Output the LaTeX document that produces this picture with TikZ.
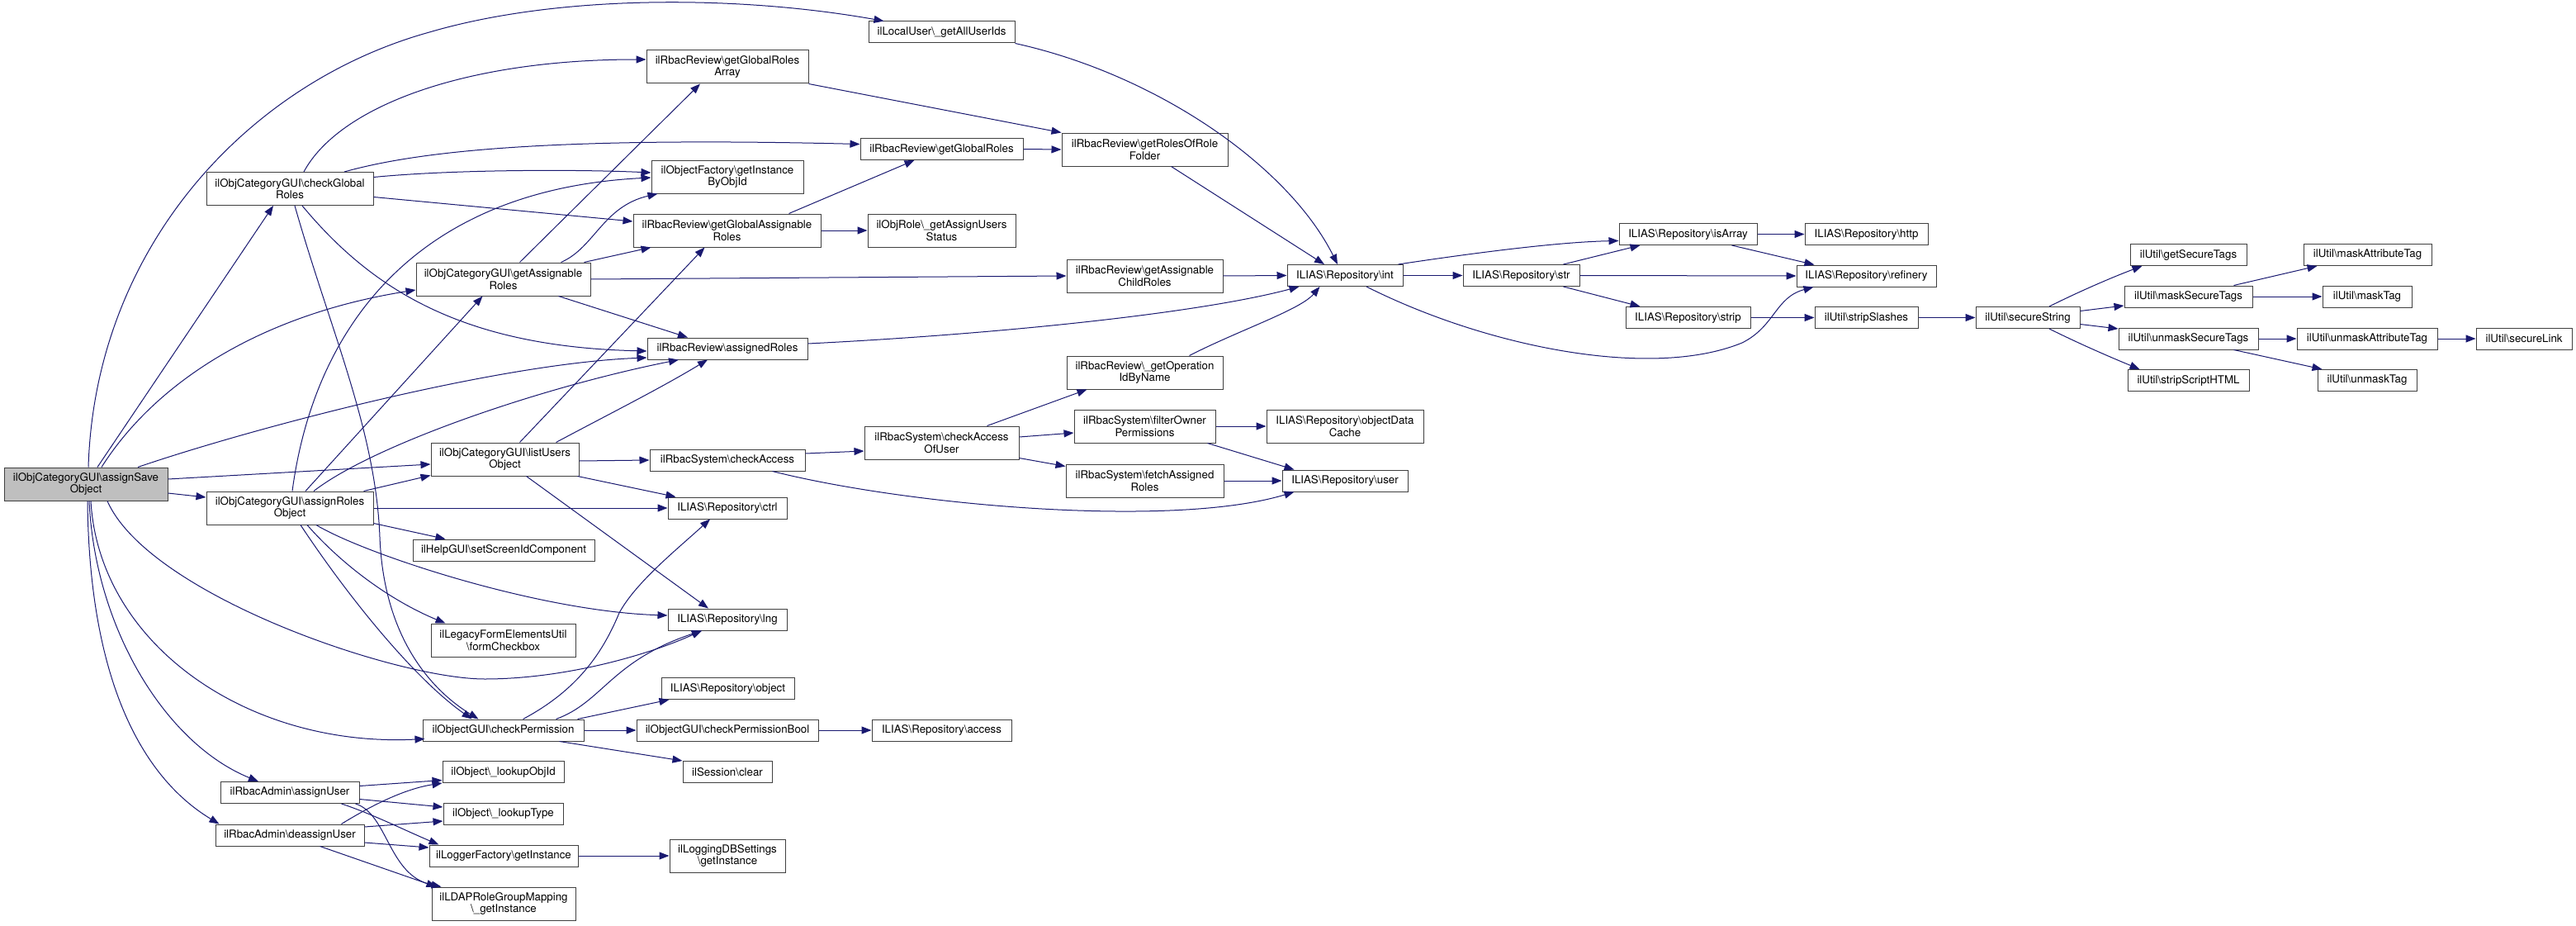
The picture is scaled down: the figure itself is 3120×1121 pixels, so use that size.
\documentclass[tikz,border=0pt]{standalone}
\usepackage{fontspec}
\setmainfont{TeX Gyre Heros}
\usetikzlibrary{arrows.meta}
\usetikzlibrary{calc}
\definecolor{edgeBlue}{RGB}{25,25,112}
\definecolor{boxGray}{RGB}{64,64,64}
\newcommand{\bsl}{\textbackslash}

\begin{document}
\begin{tikzpicture}[x=1pt,y=-1pt,
        fnNode/.style = {draw=boxGray,line width=1pt,fill=white,inner sep=0pt,minimum height=26pt,align=center,font=\fontsize{13.3}{14.7}\selectfont},
        twoLine/.style = {minimum height=40pt}, % label set on two lines
        rootNode/.style = {fnNode,twoLine,fill=black!25},
        callEdge/.style = {draw=edgeBlue,line width=1pt,-{Triangle[length=12pt,width=9pt]}}
        ]
        \path[fill=white,use as bounding box] (0,0) rectangle (3120,1121);

        % callers
        \node[rootNode,minimum width=198pt] (asave) at (104,586) {ilObjCategoryGUI\bsl assignSave\\Object};
        \node[fnNode,twoLine,minimum width=202pt] (cgr) at (351,228.5) {ilObjCategoryGUI\bsl checkGlobal\\Roles};
        \node[fnNode,twoLine,minimum width=202pt] (aro) at (351,615) {ilObjCategoryGUI\bsl assignRoles\\Object};
        \node[fnNode,minimum width=168pt] (rau) at (351,959.5) {ilRbacAdmin\bsl assignUser};
        \node[fnNode,minimum width=180pt] (rdu) at (351,1011) {ilRbacAdmin\bsl deassignUser};

        \node[fnNode,twoLine,minimum width=211pt] (gar) at (609.5,338) {ilObjCategoryGUI\bsl getAssignable\\Roles};
        \node[fnNode,twoLine,minimum width=179pt] (luo) at (611.5,556) {ilObjCategoryGUI\bsl listUsers\\Object};
        \node[fnNode,minimum width=220pt] (hsc) at (610,666) {ilHelpGUI\bsl setScreenIdComponent};
        \node[fnNode,twoLine,minimum width=175pt] (lfc) at (609.5,775) {ilLegacyFormElementsUtil\\\bsl formCheckbox};
        \node[fnNode,minimum width=195pt] (ocp) at (609.5,884) {ilObjectGUI\bsl checkPermission};
        \node[fnNode,minimum width=147pt] (lid) at (609.5,934.5) {ilObject\bsl\_lookupObjId};
        \node[fnNode,minimum width=145pt] (lty) at (609.5,985) {ilObject\bsl\_lookupType};
        \node[fnNode,minimum width=180pt] (lgf) at (610,1036) {ilLoggerFactory\bsl getInstance};
        \node[fnNode,twoLine,minimum width=174pt] (ldap) at (610,1094) {ilLDAPRoleGroupMapping\\\bsl\_getInstance};

        \node[fnNode,twoLine,minimum width=196pt] (ggra) at (881,81) {ilRbacReview\bsl getGlobalRoles\\Array};
        \node[fnNode,twoLine,minimum width=184pt] (oif) at (881,214) {ilObjectFactory\bsl getInstance\\ByObjId};
        \node[fnNode,twoLine,minimum width=227pt] (ggar) at (880.5,279) {ilRbacReview\bsl getGlobalAssignable\\Roles};
        \node[fnNode,minimum width=194pt] (ars) at (881,422) {ilRbacReview\bsl assignedRoles};
        \node[fnNode,minimum width=188pt] (rsca) at (881,557) {ilRbacSystem\bsl checkAccess};
        \node[fnNode,minimum width=144pt] (ctrl) at (881,615) {ILIAS\bsl Repository\bsl ctrl};
        \node[fnNode,minimum width=144pt] (lng) at (881,750) {ILIAS\bsl Repository\bsl lng};
        \node[fnNode,minimum width=161pt] (robj) at (881.5,833.5) {ILIAS\bsl Repository\bsl object};
        \node[fnNode,minimum width=220pt] (cpb) at (881,884) {ilObjectGUI\bsl checkPermissionBool};
        \node[fnNode,minimum width=108pt] (sclr) at (881,934.5) {ilSession\bsl clear};
        \node[fnNode,twoLine,minimum width=140pt] (ldbs) at (881,1036) {ilLoggingDBSettings\\\bsl getInstance};

        \node[fnNode,minimum width=177pt] (lu) at (1140.5,39) {ilLocalUser\bsl\_getAllUserIds};
        \node[fnNode,minimum width=197pt] (ggr) at (1140.5,180.5) {ilRbacReview\bsl getGlobalRoles};
        \node[fnNode,twoLine,minimum width=179pt] (ors) at (1140.5,279) {ilObjRole\bsl\_getAssignUsers\\Status};
        \node[fnNode,twoLine,minimum width=187pt] (csu) at (1140.5,536) {ilRbacSystem\bsl checkAccess\\OfUser};
        \node[fnNode,minimum width=169pt] (racc) at (1140.5,884) {ILIAS\bsl Repository\bsl access};

        \node[fnNode,twoLine,minimum width=201pt] (rorf) at (1386.5,181) {ilRbacReview\bsl getRolesOfRole\\Folder};
        \node[fnNode,twoLine,minimum width=189pt] (gacr) at (1386.5,334) {ilRbacReview\bsl getAssignable\\ChildRoles};
        \node[fnNode,twoLine,minimum width=189pt] (goin) at (1386.5,451) {ilRbacReview\bsl\_getOperation\\IdByName};
        \node[fnNode,twoLine,minimum width=171pt] (fop) at (1386.5,516) {ilRbacSystem\bsl filterOwner\\Permissions};
        \node[fnNode,twoLine,minimum width=191pt] (far) at (1386.5,582) {ilRbacSystem\bsl fetchAssigned\\Roles};

        \node[fnNode,minimum width=140pt] (rint) at (1629,333.5) {ILIAS\bsl Repository\bsl int};
        \node[fnNode,twoLine,minimum width=190pt] (odc) at (1629,516) {ILIAS\bsl Repository\bsl objectData\\Cache};
        \node[fnNode,minimum width=152pt] (ruser) at (1629,582) {ILIAS\bsl Repository\bsl user};
        \node[fnNode,minimum width=141pt] (rstr) at (1842.5,333.5) {ILIAS\bsl Repository\bsl str};
        \node[fnNode,minimum width=167pt] (isarr) at (2044.5,283.5) {ILIAS\bsl Repository\bsl isArray};
        \node[fnNode,minimum width=151pt] (rstrip) at (2044.5,384.5) {ILIAS\bsl Repository\bsl strip};
        \node[fnNode,minimum width=149pt] (http) at (2260.5,283.5) {ILIAS\bsl Repository\bsl http};
        \node[fnNode,minimum width=169pt] (refi) at (2260.5,334) {ILIAS\bsl Repository\bsl refinery};
        \node[fnNode,minimum width=125pt] (sls) at (2260.5,384.5) {ilUtil\bsl stripSlashes};
        \node[fnNode,minimum width=126pt] (ss) at (2456,384.5) {ilUtil\bsl secureString};

        \node[fnNode,minimum width=141pt] (gst) at (2650.5,308.5) {ilUtil\bsl getSecureTags};
        \node[fnNode,minimum width=155pt] (mst) at (2650.5,359) {ilUtil\bsl maskSecureTags};
        \node[fnNode,minimum width=169pt] (ust) at (2650.5,410) {ilUtil\bsl unmaskSecureTags};
        \node[fnNode,minimum width=147pt] (ssh) at (2650.5,460.5) {ilUtil\bsl stripScriptHTML};
        \node[fnNode,minimum width=155pt] (mat) at (2867.5,308.5) {ilUtil\bsl maskAttributeTag};
        \node[fnNode,minimum width=108pt] (mtag) at (2867,359) {ilUtil\bsl maskTag};
        \node[fnNode,minimum width=170pt] (umat) at (2867,410) {ilUtil\bsl unmaskAttributeTag};
        \node[fnNode,minimum width=120pt] (umtag) at (2867,460.5) {ilUtil\bsl unmaskTag};
        \node[fnNode,minimum width=116pt] (slink) at (3057,410) {ilUtil\bsl secureLink};

        % calls of assignSaveObject
        \draw[callEdge] ($(asave.north)+(3,0)$) .. controls (115,300) and (300,100) .. (520,39) .. controls (680,-8) and (900,-5) .. ($(lu.north)+(-70,0)$);
        \draw[callEdge] ($(asave.north)+(14,0)$) -- ($(cgr.south)+(-20,0)$);
        \draw[callEdge] ($(asave.north)+(19,0)$) .. controls (190,460) and (320,380) .. ($(gar.west)+(0,13)$);
        \draw[callEdge] ($(asave.north)+(63,0)$) .. controls (300,520) and (600,440) .. ($(ars.west)+(0,11)$);
        \draw[callEdge] ($(asave.east)+(0,-6)$) -- ($(luo.west)+(0,6)$);
        \draw[callEdge] ($(asave.east)+(0,11)$) -- ($(aro.west)+(0,-13)$);
        \draw[callEdge] ($(asave.south)+(26,0)$) .. controls (180,720) and (480,822) .. (587,822) .. controls (680,822) and (780,795) .. ($(lng.south)+(-31,0)$);
        \draw[callEdge] ($(asave.south)+(6,0)$) .. controls (120,780) and (300,905) .. ($(ocp.south west)+(3,-3)$);
        \draw[callEdge] ($(asave.south)+(4,0)$) .. controls (115,760) and (200,900) .. ($(rau.north)+(-38,0)$);
        \draw[callEdge] ($(asave.south)+(2,0)$) .. controls (108,820) and (170,940) .. ($(rdu.north west)+(5,0)$);

        % calls of checkGlobalRoles
        \draw[callEdge] ($(cgr.north)+(17,0)$) .. controls (410,130) and (560,72) .. ($(ggra.west)+(0,-9)$);
        \draw[callEdge] ($(cgr.north)+(66,0)$) .. controls (500,185) and (650,165) .. ($(ggr.west)+(0,-6)$);
        \draw[callEdge] ($(cgr.east)+(0,-14)$) .. controls (550,205) and (700,205) .. ($(oif.west)+(0,-5)$);
        \draw[callEdge] ($(cgr.east)+(0,10)$) -- ($(ggar.west)+(0,-11)$);
        \draw[callEdge] ($(cgr.south)+(15,0)$) .. controls (450,350) and (560,420) .. ($(ars.west)+(0,3)$);
        \draw[callEdge] ($(cgr.south)+(6,0)$) .. controls (400,400) and (455,520) .. (460,650) .. controls (465,780) and (530,840) .. ($(ocp.north west)+(68,0)$);

        % calls of assignRolesObject
        \draw[callEdge] ($(aro.north)+(3,0)$) .. controls (380,400) and (500,230) .. ($(oif.west)+(0,1)$);
        \draw[callEdge] ($(aro.north)+(19,0)$) -- ($(gar.south)+(-25,0)$);
        \draw[callEdge] ($(aro.north)+(29,0)$) .. controls (450,540) and (650,470) .. ($(ars.south)+(-59,0)$);
        \draw[callEdge] ($(aro.north east)+(-12,0)$) -- ($(luo.south west)+(0,-1)$);
        \draw[callEdge] (aro.east) -- (ctrl.west);
        \draw[callEdge] ($(aro.south east)+(0,-2)$) -- ($(hsc.north west)+(40,0)$);
        \draw[callEdge] ($(aro.south)+(32,0)$) .. controls (440,670) and (650,740) .. ($(lng.west)+(0,-5)$);
        \draw[callEdge] ($(aro.south)+(21,0)$) .. controls (420,690) and (480,730) .. ($(lfc.north west)+(18,0)$);
        \draw[callEdge] ($(aro.south)+(13,0)$) .. controls (420,720) and (500,820) .. ($(ocp.north west)+(60,0)$);

        % calls of getAssignableRoles and listUsersObject
        \draw[callEdge] ($(gar.north)+(20,0)$) -- ($(ggra.south)+(-33,0)$);
        \draw[callEdge] ($(gar.north)+(70,0)$) .. controls (720,300) and (730,250) .. ($(oif.south west)+(8,0)$);
        \draw[callEdge] ($(gar.north east)+(-8,0)$) -- ($(ggar.south west)+(22,0)$);
        \draw[callEdge] (gar.east) -- (gacr.west);
        \draw[callEdge] ($(gar.south)+(67,0)$) -- ($(ars.north)+(-48,0)$);
        \draw[callEdge] ($(luo.north)+(18,0)$) -- ($(ggar.south)+(-27,0)$);
        \draw[callEdge] ($(luo.north)+(62,0)$) .. controls (740,500) and (800,470) .. ($(ars.south)+(-24,0)$);
        \draw[callEdge] ($(luo.east)+(0,2)$) -- (rsca.west);
        \draw[callEdge] ($(luo.south east)+(-2,0)$) -- ($(ctrl.north west)+(10,0)$);
        \draw[callEdge] ($(luo.south)+(26,0)$) -- ($(lng.north)+(-23,0)$);

        % rbac system
        \draw[callEdge] ($(rsca.east)+(0,-8)$) -- ($(csu.west)+(0,10)$);
        \draw[callEdge] ($(rsca.south east)+(-40,0)$) .. controls (1100,612) and (1420,640) .. ($(ruser.south west)+(15,0)$);
        \draw[callEdge] ($(csu.north)+(55,0)$) -- ($(goin.south west)+(25,0)$);
        \draw[callEdge] ($(csu.east)+(0,-7)$) -- ($(fop.west)+(0,8)$);
        \draw[callEdge] ($(csu.south east)+(0,-2)$) -- ($(far.north west)+(0,3)$);
        \draw[callEdge] (fop.east) -- (odc.west);
        \draw[callEdge] ($(fop.south east)+(-10,0)$) -- ($(ruser.north west)+(15,0)$);
        \draw[callEdge] (far.east) -- (ruser.west);

        % rbac review
        \draw[callEdge] ($(goin.north)+(54,0)$) .. controls (1500,400) and (1575,375) .. ($(rint.south west)+(40,0)$);
        \draw[callEdge] ($(ars.east)+(0,-6)$) .. controls (1200,405) and (1450,380) .. ($(rint.south west)+(15,0)$);
        \draw[callEdge] (lu.south east) .. controls (1400,90) and (1560,200) .. ($(rint.north)+(-9,0)$);
        \draw[callEdge] ($(rorf.south)+(32,0)$) -- ($(rint.north)+(-25,0)$);
        \draw[callEdge] (gacr.east) -- (rint.west);
        \draw[callEdge] (ggra.south east) -- (rorf.north west);
        \draw[callEdge] (ggr.east) -- (rorf.west);
        \draw[callEdge] ($(ggar.north east)+(-39,0)$) -- ($(ggr.south)+(-33,0)$);
        \draw[callEdge] (ggar.east) -- (ors.west);

        % repository
        \draw[callEdge] ($(rint.north east)+(-6,0)$) .. controls (1760,310) and (1880,293) .. ($(isarr.west)+(0,8)$);
        \draw[callEdge] (rint.east) -- (rstr.west);
        \draw[callEdge] ($(rint.south)+(26,0)$) .. controls (1800,420) and (2000,460) .. (2110,415) .. controls (2150,395) and (2150,360) .. ($(refi.south west)+(21,0)$);
        \draw[callEdge] ($(rstr.north east)+(-20,0)$) -- ($(isarr.south west)+(26,0)$);
        \draw[callEdge] (rstr.east) -- (refi.west);
        \draw[callEdge] ($(rstr.south east)+(-20,0)$) -- ($(rstrip.north west)+(18,0)$);
        \draw[callEdge] (isarr.east) -- (http.west);
        \draw[callEdge] ($(isarr.south)+(53,0)$) -- ($(refi.north west)+(22,0)$);
        \draw[callEdge] (rstrip.east) -- (sls.west);
        \draw[callEdge] (sls.east) -- (ss.west);

        % ilUtil
        \draw[callEdge] ($(ss.north)+(26,0)$) .. controls (2520,352) and (2560,335) .. ($(gst.south west)+(15,0)$);
        \draw[callEdge] ($(ss.east)+(0,-8)$) -- ($(mst.west)+(0,11)$);
        \draw[callEdge] ($(ss.east)+(0,8)$) -- ($(ust.west)+(0,-12)$);
        \draw[callEdge] ($(ss.south)+(26,0)$) .. controls (2520,417) and (2560,434) .. ($(ssh.north west)+(15,0)$);
        \draw[callEdge] ($(mst.north)+(55,0)$) -- ($(mat.south west)+(17,0)$);
        \draw[callEdge] (mst.east) -- (mtag.west);
        \draw[callEdge] (ust.east) -- (umat.west);
        \draw[callEdge] ($(ust.south)+(55,0)$) -- ($(umtag.north west)+(6,0)$);
        \draw[callEdge] (umat.east) -- (slink.west);

        % checkPermission
        \draw[callEdge] ($(ocp.north)+(24,0)$) .. controls (700,835) and (730,790) .. (750,742) .. controls (770,705) and (820,665) .. ($(ctrl.south)+(-21,0)$);
        \draw[callEdge] ($(ocp.north)+(64,0)$) .. controls (730,850) and (740,800) .. ($(lng.south)+(-31,0)$);
        \draw[callEdge] ($(ocp.north east)+(-8,0)$) -- ($(robj.south west)+(10,0)$);
        \draw[callEdge] (ocp.east) -- (cpb.west);
        \draw[callEdge] ($(ocp.south)+(68,0)$) -- (sclr.north west);
        \draw[callEdge] (cpb.east) -- (racc.west);

        % rbac admin
        \draw[callEdge] ($(rau.east)+(0,-8)$) -- ($(lid.west)+(0,10)$);
        \draw[callEdge] ($(rau.east)+(0,8)$) -- ($(lty.west)+(0,-8)$);
        \draw[callEdge] ($(rau.south east)+(-22,0)$) .. controls (450,985) and (490,1005) .. ($(lgf.north west)+(12,0)$);
        \draw[callEdge] ($(rau.south east)+(-5,0)$) .. controls (470,985) and (470,1060) .. ($(ldap.north west)+(12,0)$);
        \draw[callEdge] ($(rdu.north east)+(-28,0)$) .. controls (450,975) and (490,955) .. (lid.south west);
        \draw[callEdge] ($(rdu.east)+(0,-10)$) -- ($(lty.west)+(0,9)$);
        \draw[callEdge] ($(rdu.east)+(0,9)$) -- ($(lgf.west)+(0,-10)$);
        \draw[callEdge] ($(rdu.south east)+(-54,0)$) -- ($(ldap.north west)+(6,0)$);
        \draw[callEdge] (lgf.east) -- (ldbs.west);
    \end{tikzpicture}
\end{document}
